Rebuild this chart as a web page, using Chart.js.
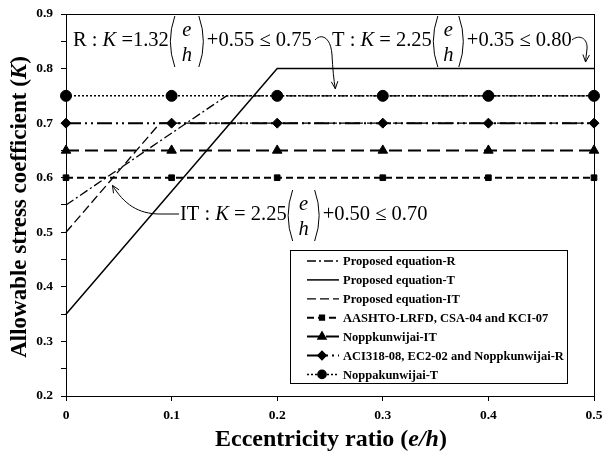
<!DOCTYPE html>
<html>
<head>
<meta charset="utf-8">
<script src="https://cdn.jsdelivr.net/npm/chart.js@4.4.0/dist/chart.umd.min.js"></script>
<style>
  html, body { margin: 0; padding: 0; background: #fff; }
</style>
</head>
<body>
<canvas id="chart" width="603" height="461"></canvas>
<script>
const xTicks = [0, 0.1, 0.2, 0.3, 0.4, 0.5];

// proposed equations (break points)
const propRX = [0, 0.152, 0.5];
const propRY = [0.55, 0.75, 0.75];
const propTX = [0, 0.2, 0.5];
const propTY = [0.35, 0.80, 0.80];
const propITX = [0, 0.089, 0.5];
const propITY = [0.50, 0.70, 0.70];

// code values, marked at every 0.1
const markX = [0, 0.1, 0.2, 0.3, 0.4, 0.5];
const aashto = [0.60, 0.60, 0.60, 0.60, 0.60, 0.60];
const noppIT = [0.65, 0.65, 0.65, 0.65, 0.65, 0.65];
const aci = [0.70, 0.70, 0.70, 0.70, 0.70, 0.70];
const noppT = [0.75, 0.75, 0.75, 0.75, 0.75, 0.75];

const labels = [
  "Proposed equation-R",
  "Proposed equation-T",
  "Proposed equation-IT",
  "AASHTO-LRFD, CSA-04 and KCI-07",
  "Noppkunwijai-IT",
  "ACI318-08, EC2-02 and Noppkunwijai-R",
  "Noppakunwijai-T"
];

const SERIF = '"Liberation Serif", "Times New Roman", serif';

function pts(xs, ys) {
  return xs.map((v, i) => ({ x: v, y: ys[i] }));
}

function line(label, data, dash, width, style, radius) {
  return {
    label,
    data,
    borderColor: "#000",
    backgroundColor: "#000",
    borderWidth: width,
    borderDash: dash,
    pointStyle: style || "circle",
    pointRadius: radius || 0,
    pointBackgroundColor: "#000",
    pointBorderColor: "#000",
    pointBorderWidth: 1,
    tension: 0,
    fill: false,
    clip: false
  };
}

const datasets = [
  line(labels[0], pts(propRX, propRY), [9, 3, 2, 3], 1.3),
  line(labels[1], pts(propTX, propTY), [], 1.5),
  line(labels[2], pts(propITX, propITY), [9, 4], 1.3),
  line(labels[3], pts(markX, aashto), [7, 4], 2, "rect", 4),
  line(labels[4], pts(markX, noppIT), [13, 6], 2, "triangle", 5.5),
  line(labels[5], pts(markX, aci), [15, 4, 2, 4, 2, 4], 2, "rectRot", 5),
  line(labels[6], pts(markX, noppT), [2, 2], 1.5, "circle", 5.5)
];

function drawMixed(ctx, parts, cx, cy) {
  let total = 0;
  parts.forEach((p) => { ctx.font = p[1]; total += ctx.measureText(p[0]).width; });
  let x = cx - total / 2;
  ctx.textAlign = "left";
  ctx.textBaseline = "middle";
  parts.forEach((p) => {
    ctx.font = p[1];
    ctx.fillText(p[0], x, cy);
    x += ctx.measureText(p[0]).width;
  });
}

// equation with a tall (e/h) fraction
function drawEq(ctx, x, base, parts, fracW) {
  const size = 20.5;
  ctx.textBaseline = "alphabetic";
  ctx.textAlign = "left";
  parts.forEach((p) => {
    if (p === null) {
      const top = base - 30, bot = base + 21, mid = (top + bot) / 2;
      ctx.beginPath();
      ctx.moveTo(x + 6, top);
      ctx.quadraticCurveTo(x - 3, mid, x + 6, bot);
      ctx.moveTo(x + fracW - 6, top);
      ctx.quadraticCurveTo(x + fracW + 3, mid, x + fracW - 6, bot);
      ctx.stroke();
      ctx.font = "italic " + size + "px " + SERIF;
      ctx.textAlign = "center";
      ctx.fillText("e", x + fracW / 2, base - 10);
      ctx.fillText("h", x + fracW / 2, base + 15);
      ctx.textAlign = "left";
      x += fracW + 2;
      return;
    }
    ctx.font = (p[1] ? "italic " : "") + size + "px " + SERIF;
    ctx.fillText(p[0], x, base);
    x += ctx.measureText(p[0]).width;
  });
}

function arrowHead(ctx, tx, ty, fx, fy) {
  const a = Math.atan2(ty - fy, tx - fx);
  const l = 8, s = 0.42;
  ctx.beginPath();
  ctx.moveTo(tx - l * Math.cos(a - s), ty - l * Math.sin(a - s));
  ctx.lineTo(tx, ty);
  ctx.lineTo(tx - l * Math.cos(a + s), ty - l * Math.sin(a + s));
  ctx.stroke();
}

const framePlugin = {
  id: "frame",
  beforeDatasetsDraw(chart) {
    const { ctx, chartArea: a } = chart;
    ctx.save();
    ctx.strokeStyle = "#000";
    ctx.lineWidth = 1;
    ctx.strokeRect(a.left + 0.5, a.top + 0.5, a.right - a.left, a.bottom - a.top);
    ctx.restore();
  },
  afterDraw(chart) {
    const { ctx } = chart;
    ctx.save();
    ctx.fillStyle = "#000";
    drawMixed(ctx, [
      ["Eccentricity ratio (", "bold 24px " + SERIF],
      ["e/h", "bold italic 24px " + SERIF],
      [")", "bold 24px " + SERIF]
    ], 331, 440);
    ctx.translate(20, 207);
    ctx.rotate(-Math.PI / 2);
    drawMixed(ctx, [
      ["Allowable stress coefficient (", "bold 23px " + SERIF],
      ["K", "bold italic 23px " + SERIF],
      [")", "bold 23px " + SERIF]
    ], 0, 0);
    ctx.restore();
  }
};

const annotPlugin = {
  id: "annot",
  afterDatasetsDraw(chart) {
    const { ctx, scales: { x, y } } = chart;
    ctx.save();
    ctx.fillStyle = "#000";
    ctx.strokeStyle = "#000";
    ctx.lineWidth = 1;

    drawEq(ctx, 73, 46, [["R : ", 0], ["K", 1], [" =1.32", 0], null, ["+0.55 \u2264 0.75", 0]], 36);
    drawEq(ctx, 332, 46, [["T : ", 0], ["K", 1], [" = 2.25", 0], null, ["+0.35 \u2264 0.80", 0]], 33);
    drawEq(ctx, 180, 220, [["IT : ", 0], ["K", 1], [" = 2.25", 0], null, ["+0.50 \u2264 0.70", 0]], 34);

    // R arrow
    let tx = x.getPixelForValue(0.255), ty = y.getPixelForValue(0.763);
    ctx.beginPath();
    ctx.moveTo(315, 40);
    ctx.bezierCurveTo(321, 33, 331, 37, 332, 55);
    ctx.quadraticCurveTo(333, 75, tx, ty);
    ctx.stroke();
    arrowHead(ctx, tx, ty, 334, 75);

    // T arrow
    tx = x.getPixelForValue(0.492);
    ty = y.getPixelForValue(0.812);
    ctx.beginPath();
    ctx.moveTo(572, 40);
    ctx.bezierCurveTo(579, 34, 588, 38, 587, 49);
    ctx.quadraticCurveTo(586, 57, tx, ty);
    ctx.stroke();
    arrowHead(ctx, tx, ty, 586, 57);

    // IT arrow
    tx = x.getPixelForValue(0.044);
    ty = y.getPixelForValue(0.586);
    ctx.beginPath();
    ctx.moveTo(179, 214);
    ctx.lineTo(160, 214);
    ctx.bezierCurveTo(138, 214, 124, 204, tx, ty);
    ctx.stroke();
    arrowHead(ctx, tx, ty, 124, 204);
    ctx.restore();
  }
};

const legendPlugin = {
  id: "boxLegend",
  afterDatasetsDraw(chart) {
    const { ctx } = chart;
    const left = 290, top = 250, w = 277, h = 133;
    ctx.save();
    ctx.fillStyle = "#fff";
    ctx.fillRect(left, top, w, h);
    ctx.strokeStyle = "#000";
    ctx.lineWidth = 1;
    ctx.strokeRect(left + 0.5, top + 0.5, w, h);
    chart.data.datasets.forEach((ds, i) => {
      const yy = top + 11 + i * 18.9;
      ctx.strokeStyle = "#000";
      ctx.lineWidth = ds.borderWidth;
      ctx.setLineDash(ds.borderDash);
      ctx.beginPath();
      ctx.moveTo(307, yy);
      ctx.lineTo(339, yy);
      ctx.stroke();
      ctx.setLineDash([]);
      if (ds.pointRadius > 0) {
        ctx.fillStyle = "#000";
        Chart.helpers.drawPoint(ctx, {
          pointStyle: ds.pointStyle,
          radius: ds.pointRadius * 0.75,
          rotation: 0,
          borderWidth: 1
        }, 322, yy);
      }
      ctx.fillStyle = "#000";
      ctx.font = "bold 12.5px " + SERIF;
      ctx.textAlign = "left";
      ctx.textBaseline = "middle";
      ctx.fillText(ds.label, 343, yy + 1);
    });
    ctx.restore();
  }
};

function isTenth(v) {
  return Math.abs(v * 10 - Math.round(v * 10)) < 1e-6;
}

new Chart(document.getElementById("chart"), {
  type: "line",
  data: { datasets },
  options: {
    responsive: false,
    animation: false,
    layout: { padding: { top: 14, right: 9, left: 0, bottom: 0 } },
    plugins: { legend: { display: false }, tooltip: { enabled: false } },
    scales: {
      x: {
        type: "linear",
        min: 0,
        max: 0.5,
        afterFit(scale) {
          scale.height = 65;
          scale.paddingRight = 0;
          scale.paddingLeft = 0;
        },
        afterBuildTicks(scale) { scale.ticks = xTicks.map((v) => ({ value: v })); },
        ticks: {
          color: "#000",
          padding: 6,
          maxRotation: 0,
          font: { family: SERIF, size: 13.5, weight: "bold" },
          callback: (v) => (v === 0 ? "0" : String(v))
        },
        grid: { drawOnChartArea: false, tickLength: 5, color: "#000" },
        border: { color: "#000", width: 1 }
      },
      y: {
        min: 0.2,
        max: 0.9,
        afterFit(scale) {
          scale.width = 66;
          scale.paddingTop = 0;
          scale.paddingBottom = 0;
        },
        ticks: {
          stepSize: 0.05,
          color: "#000",
          padding: 8,
          font: { family: SERIF, size: 13.5, weight: "bold" },
          callback: (v) => (isTenth(v) ? Number(v).toFixed(1) : "")
        },
        grid: { drawOnChartArea: false, tickLength: 5, color: "#000" },
        border: { color: "#000", width: 1 }
      }
    }
  },
  plugins: [framePlugin, annotPlugin, legendPlugin]
});
</script>
</body>
</html>
